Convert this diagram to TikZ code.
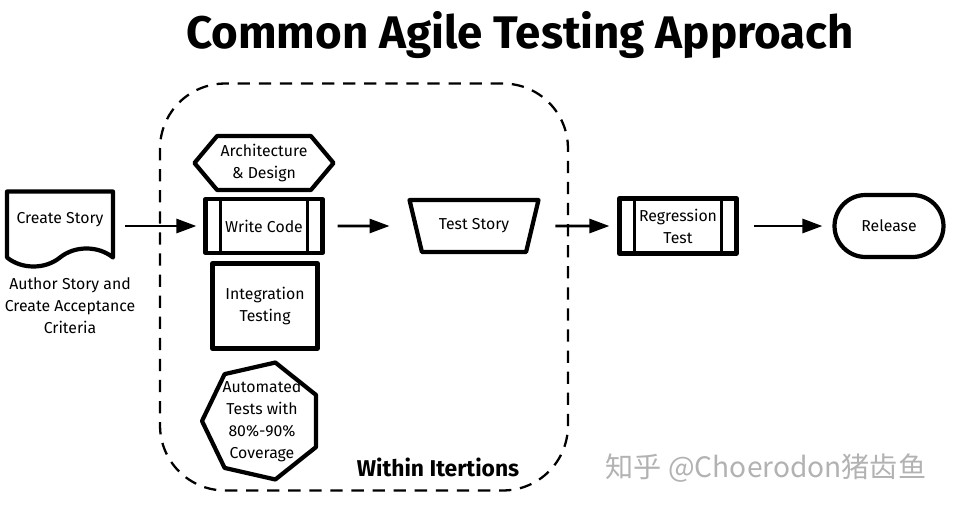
\documentclass[tikz,border=0pt]{standalone}
\usepackage{fontspec}
\setmainfont{Fira Sans}
\newfontfamily\cjkfont{Noto Sans CJK SC}
\usetikzlibrary{arrows.meta,positioning,shapes.geometric,shapes.misc,shapes.symbols}

\begin{document}
\begin{tikzpicture}[
  x=0.02cm, y=-0.02cm,
  font=\fontsize{9}{12.5}\selectfont,
  box/.style={draw, line width=2.4pt, line join=round, rectangle, align=center, inner sep=2pt},
  docbox/.style={box, tape, tape bend top=none, tape bend height=0.36cm},
  hexbox/.style={box, signal, signal to=east and west, signal pointer angle=100},
  procbox/.style={box, path picture={
      \draw[line width=1.6pt] ([xshift=0.3cm]path picture bounding box.north west) -- ([xshift=0.3cm]path picture bounding box.south west);
      \draw[line width=1.6pt] ([xshift=-0.3cm]path picture bounding box.north east) -- ([xshift=-0.3cm]path picture bounding box.south east);}},
  manbox/.style={box, trapezium, shape border rotate=180, trapezium left angle=60, trapezium right angle=60, trapezium stretches body},
  polybox/.style={box, regular polygon, regular polygon sides=7, shape border rotate=90, inner sep=-10pt},
  endbox/.style={box, rounded rectangle},
  frame/.style={draw, line width=1.3pt, dash pattern=on 7pt off 5pt, rounded corners=1.3cm},
  arr/.style={-{Triangle[length=0.4cm,width=0.28cm]}, line width=1.6pt}
]
\useasboundingbox (0,0) rectangle (954,511);

% iteration frame
\node[frame, minimum width=8.16cm, minimum height=8.14cm] (iter) at (364,287) {};

\node[font=\bfseries\fontsize{26}{30}\selectfont] (title) at (520,35) {Common Agile Testing Approach};

\node[docbox, minimum width=2.12cm, minimum height=1.5cm] (story) at (60,220) {Create Story};
\node[align=center] (author) at (70,306) {Author Story and\\Create Acceptance\\Criteria};

\node[hexbox, minimum width=2.64cm, minimum height=1.08cm] (arch) at (264,163) {Architecture\\\& Design};
\node[procbox, minimum width=2.34cm, minimum height=1.08cm] (code) at (264,226) {Write Code};
\node[box, minimum width=2.1cm, minimum height=1.7cm] (integ) at (265,306) {Integration\\Testing};
\node[polybox, minimum size=2.4cm] (auto) at (262,421) {Automated\\Tests with\\80\%-90\%\\Coverage};
\node[font=\bfseries\fontsize{13}{15}\selectfont] (within) at (438,467) {Within Itertions};

\node[manbox, minimum width=2.58cm, minimum height=1.04cm] (test) at (474,226) {Test Story};
\node[procbox, minimum width=2.34cm, minimum height=1.1cm] (reg) at (678,226) {Regression\\Test};
\node[endbox, minimum width=2.32cm, minimum height=1.24cm] (rel) at (889,226) {Release};

\node[text=black!30, font=\cjkfont\fontsize{16}{18}\selectfont] (mark) at (766,468) {知乎 @Choerodon猪齿鱼};

\draw[arr, shorten <=0.2cm, shorten >=0.14cm] (story.east |- code.west) -- (code.west);
\draw[arr, shorten <=0.26cm, shorten >=0.48cm] (code.east) -- (test.west);
\draw[arr, shorten <=0.42cm, shorten >=0.16cm] (test.east) -- (reg.west);
\draw[arr, shorten <=0.3cm, shorten >=0.2cm] (reg.east) -- (rel.west);
\end{tikzpicture}
\end{document}
